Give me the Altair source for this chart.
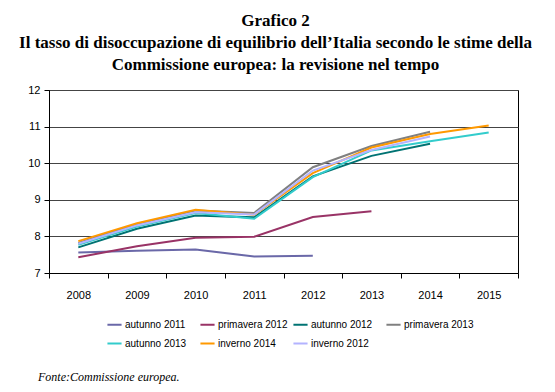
import altair as alt
import pandas as pd

years = ["2008", "2009", "2010", "2011", "2012", "2013", "2014", "2015"]

series_names = ["autunno 2011", "primavera 2012", "autunno 2012", "primavera 2013",
                "autunno 2013", "inverno 2014", "inverno 2012"]
colors = ["#6a68a8", "#993366", "#007373", "#808080", "#33cccc", "#ff9900", "#b3b3ff"]

autunno_2011 = [7.56, 7.61, 7.64, 7.45, 7.47]
primavera_2012 = [7.43, 7.73, 7.96, 7.99, 8.53, 8.69]
autunno_2012 = [7.70, 8.21, 8.57, 8.52, 9.64, 10.20, 10.53]
primavera_2013 = [7.82, 8.34, 8.71, 8.64, 9.89, 10.47, 10.86]
autunno_2013 = [7.77, 8.27, 8.64, 8.48, 9.62, 10.35, 10.60, 10.84]
inverno_2014 = [7.87, 8.36, 8.73, 8.59, 9.73, 10.43, 10.80, 11.03]
inverno_2012 = [7.80, 8.30, 8.66, 8.60, 9.80, 10.36, 10.73]

all_series = [autunno_2011, primavera_2012, autunno_2012, primavera_2013,
              autunno_2013, inverno_2014, inverno_2012]

rows = []
for name, vals in zip(series_names, all_series):
    for y, v in zip(years, vals):
        rows.append({"anno": y, "valore": v, "serie": name})
df = pd.DataFrame(rows)

lines = alt.Chart(df).mark_line(strokeWidth=2).encode(
    x=alt.X("anno:O", sort=years,
            scale=alt.Scale(type="band", domain=years, paddingInner=0, paddingOuter=0),
            axis=alt.Axis(title=None, labelAngle=0, tickBand="extent", domainColor="#000",
                          tickColor="#000", tickSize=5, labelPadding=11, labelFontSize=11,
                          labelFont="Liberation Sans", labelColor="#000", grid=False)),
    y=alt.Y("valore:Q", scale=alt.Scale(domain=[7, 12], nice=False),
            axis=alt.Axis(title=None, values=[7, 8, 9, 10, 11, 12], tickSize=5,
                          labelPadding=4, labelFontSize=11, labelFont="Liberation Sans",
                          labelColor="#000", domainColor="#000", tickColor="#000",
                          gridColor="#444", gridWidth=1.2)),
    color=alt.Color("serie:N",
                    scale=alt.Scale(domain=series_names, range=colors),
                    legend=alt.Legend(title=None, orient="none", legendX=57, legendY=226,
                                      direction="horizontal",
                                      columns=4, gridAlign="all", columnPadding=1,
                                      rowPadding=5, symbolType="stroke", symbolSize=200,
                                      symbolStrokeWidth=2, labelFontSize=10,
                                      labelFont="Liberation Sans", labelColor="#000",
                                      labelOffset=2)),
    detail="serie:N",
)

footer = alt.Chart(pd.DataFrame({"t": ["Fonte:Commissione europea."]})).mark_text(
    align="left", baseline="alphabetic", font="Liberation Serif", fontStyle="italic",
    fontSize=12, color="#000"
).encode(x=alt.value(-11), y=alt.value(291), text="t:N")

chart = alt.layer(lines, footer).properties(
    width=469, height=183,
    autosize=alt.AutoSizeParams(type="none"),
    padding={"left": 41, "top": 82, "right": 29, "bottom": 111},
    title=alt.TitleParams(
        text=["Grafico 2",
              "Il tasso di disoccupazione di equilibrio dell\u2019Italia secondo le stime della",
              "Commissione europea: la revisione nel tempo"],
        font="Liberation Serif", fontSize=17, fontWeight="bold", color="#000",
        lineHeight=22, anchor="middle", frame="group", offset=10, dx=-8),
).configure_view(stroke="#000", strokeWidth=1)

chart.save("out.html", embed_options={"renderer": "svg", "actions": False})
